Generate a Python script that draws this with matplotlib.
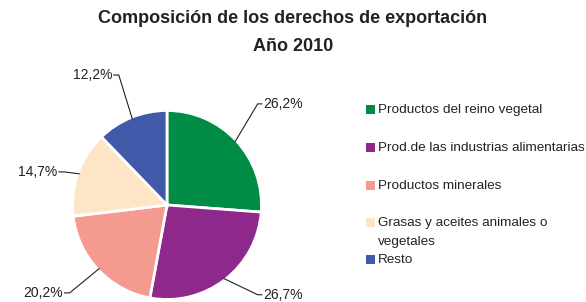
import matplotlib
matplotlib.use("Agg")
import matplotlib.pyplot as plt
import numpy as np
from matplotlib.patches import Rectangle

plt.rcParams['font.family'] = ['Liberation Sans', 'DejaVu Sans']

# data
categories = ["Productos del reino vegetal",
              "Prod.de las industrias alimentarias",
              "Productos minerales",
              "Grasas y aceites animales o\nvegetales",
              "Resto"]
shares = [26.2, 26.7, 20.2, 14.7, 12.2]
pct_labels = ["26,2%", "26,7%", "20,2%", "14,7%", "12,2%"]
colors = ["#008C45", "#8E288A", "#F59A8F", "#FEE5C6", "#4059A8"]

title1 = "Composición de los derechos de exportación"
title2 = "Año 2010"

# label layout (text anchor in radius units, alignment)
label_pos = [(1.02, 1.07, 'left'), (1.02, -0.95, 'left'),
             (-1.10, -0.93, 'right'), (-1.16, 0.35, 'right'),
             (-0.58, 1.375, 'right')]

fig = plt.figure(figsize=(5.86, 3.02), dpi=100)
ax = fig.add_axes([0.0592, 0.0, 0.4515, 0.8013])

wedges, _ = ax.pie(shares, colors=colors, startangle=90, counterclock=False,
                   wedgeprops=dict(edgecolor='white', linewidth=2))
ax.set_xlim(-1.4, 1.4)
ax.set_ylim(-1.0265, 1.534)
ax.set_aspect('auto')

for w, lab, (tx, ty, ha) in zip(wedges, pct_labels, label_pos):
    ang = np.deg2rad((w.theta1 + w.theta2) / 2.0)
    sx, sy = 0.98 * np.cos(ang), 0.98 * np.sin(ang)
    ex = tx - 0.06 if ha == 'left' else tx + 0.07
    ax.plot([sx, ex, tx - 0.01 if ha == 'left' else tx + 0.01], [sy, ty, ty],
            color='#222222', lw=0.8, solid_capstyle='butt')
    ax.text(tx, ty, lab, ha=ha, va='center', fontsize=10, color='#222222')

fig.text(0.5, 0.940, title1, ha='center', va='center', fontsize=13, fontweight='bold', color='#222222')
fig.text(0.5, 0.845, title2, ha='center', va='center', fontsize=13, fontweight='bold', color='#222222')

# legend drawn by hand
leg_y = [110, 148, 186, 223, 260]
for lab, c, y in zip(categories, colors, leg_y):
    fig.patches.append(Rectangle((366 / 586, 1 - (y + 4) / 302), 9 / 586, 9 / 302,
                                 transform=fig.transFigure, facecolor=c, edgecolor='none'))
    if '\n' in lab:
        fig.text(378 / 586, 1 - (y - 6) / 302, lab, ha='left', va='top',
                 fontsize=9.7, color='#222222', linespacing=1.75)
    else:
        fig.text(378 / 586, 1 - y / 302, lab, ha='left', va='center',
                 fontsize=9.7, color='#222222')

fig.savefig("out.png", dpi=100)
